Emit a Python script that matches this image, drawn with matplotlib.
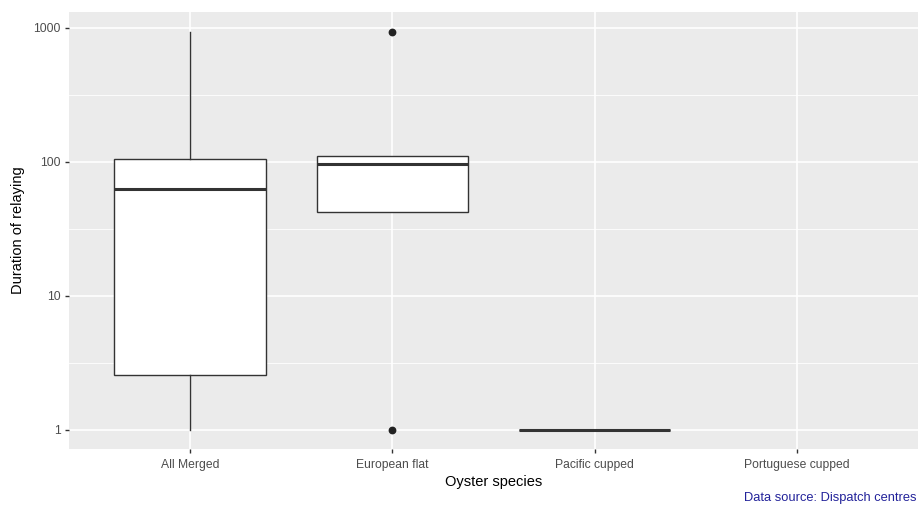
import matplotlib
matplotlib.use("Agg")
import matplotlib.pyplot as plt
import numpy as np
from matplotlib.ticker import FixedLocator, NullFormatter

plt.rcParams['font.family'] = ['Liberation Sans', 'DejaVu Sans']

# Relaying duration summary per oyster species (log scale)
categories = ["All Merged", "European flat", "Pacific cupped", "Portuguese cupped"]
whisker_low = [1.0, 42.0, 1.0]
quartile1 = [2.55, 42.0, 1.0]
median = [63.0, 96.0, 1.0]
quartile3 = [106.0, 110.0, 1.0]
whisker_high = [930.0, 110.0, 1.0]
outliers = [[], [1.0, 930.0], []]

y_ticks = [1, 10, 100, 1000]
y_tick_labels = ["1", "10", "100", "1000"]

stats = []
for lo, a, m, b, hi, fl in zip(whisker_low, quartile1, median, quartile3,
                               whisker_high, outliers):
    stats.append(dict(whislo=lo, q1=a, med=m, q3=b, whishi=hi, fliers=fl))

W, H = 919, 507
fig = plt.figure(figsize=(W / 100, H / 100), dpi=100)
left, right, top, bottom = 69, 918, 12, 449
ax = fig.add_axes([left / W, (H - bottom) / H, (right - left) / W, (bottom - top) / H])

ax.set_facecolor("#EBEBEB")
for s in ax.spines.values():
    s.set_visible(False)

ax.set_yscale("log")
ax.set_ylim(10 ** -0.142, 10 ** 3.119)
ax.set_xlim(0.4, 4.6)

# grid lines
minor = [10 ** (k + 0.5) for k in range(-1, 4)]
for v in minor:
    ax.axhline(v, color="white", lw=0.6, zorder=0)
for v in y_ticks:
    ax.axhline(v, color="white", lw=1.2, zorder=0)
for x in range(1, len(categories) + 1):
    ax.axvline(x, color="white", lw=1.2, zorder=0)

line_col = "#333333"
ax.bxp(stats, positions=[1, 2, 3], widths=0.75, patch_artist=True,
       showcaps=False,
       boxprops=dict(facecolor="white", edgecolor=line_col, linewidth=1.0),
       medianprops=dict(color=line_col, linewidth=2.2, solid_capstyle="butt"),
       whiskerprops=dict(color=line_col, linewidth=1.0),
       flierprops=dict(marker="o", markersize=4.6, markerfacecolor="#222222",
                       markeredgecolor="#222222"),
       zorder=3)

ax.yaxis.set_major_locator(FixedLocator(y_ticks))
ax.set_yticklabels(y_tick_labels)
ax.yaxis.set_minor_locator(FixedLocator([]))
ax.yaxis.set_minor_formatter(NullFormatter())
ax.set_xticks(range(1, len(categories) + 1))
ax.set_xticklabels(categories)

ax.tick_params(axis="both", which="major", length=3, width=1.0, color="#333333",
               labelcolor="#4D4D4D", labelsize=8.7)
ax.tick_params(axis="x", pad=4)
ax.tick_params(axis="y", pad=3)

ax.set_xlabel("Oyster species", fontsize=10.5, color="black", labelpad=3)
ax.set_ylabel("Duration of relaying", fontsize=10.5, color="black", labelpad=6)

fig.text(917 / W, 1 - 498 / H, "Data source: Dispatch centres", ha="right",
         va="center", fontsize=9.3, color="#22229A")

fig.savefig("out.png", dpi=100)
